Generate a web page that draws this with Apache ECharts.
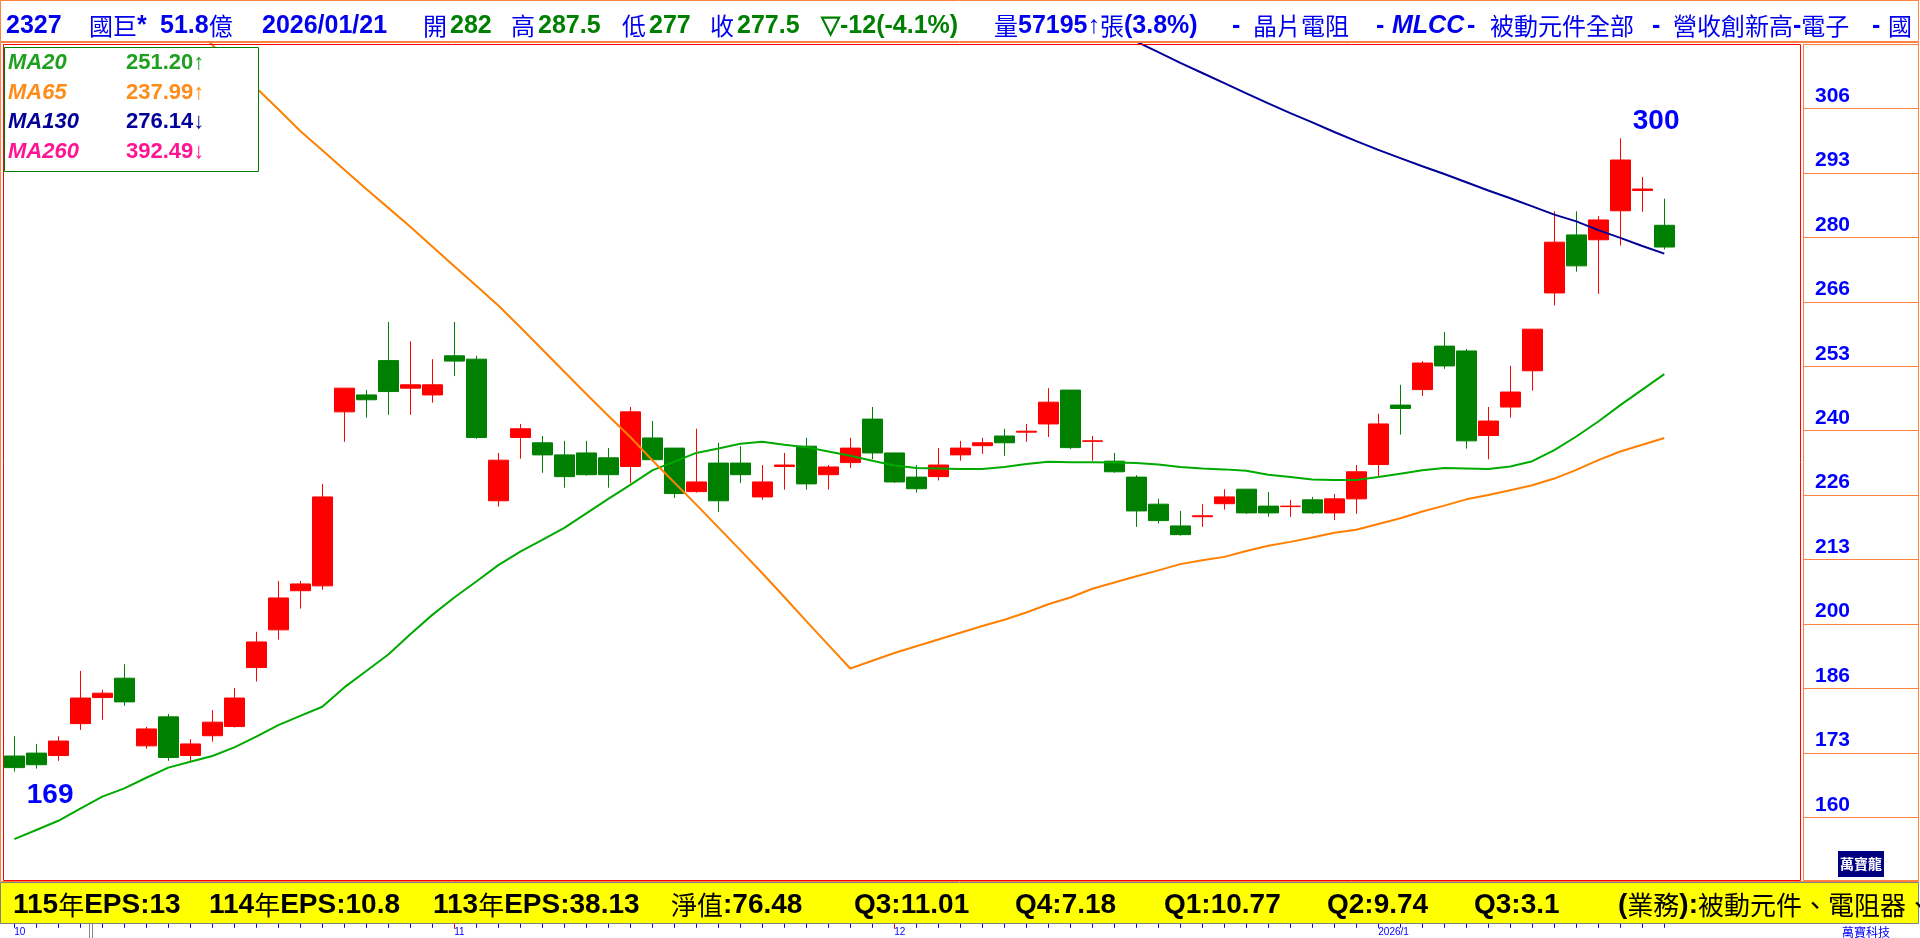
<!DOCTYPE html>
<html><head><meta charset="utf-8">
<script src="https://cdn.jsdelivr.net/npm/echarts@6/dist/echarts.min.js"></script>
<style>html,body{margin:0;padding:0;background:#fff;}#c{width:1920px;height:938px;}</style>
</head><body><div id="c"></div>
<script>
const dates = [
'2025/10/01','2025/10/02','2025/10/03','2025/10/07','2025/10/08','2025/10/09','2025/10/13','2025/10/14','2025/10/15','2025/10/16',
'2025/10/17','2025/10/20','2025/10/21','2025/10/22','2025/10/23','2025/10/27','2025/10/28','2025/10/29','2025/10/30','2025/10/31',
'2025/11/03','2025/11/04','2025/11/05','2025/11/06','2025/11/07','2025/11/10','2025/11/11','2025/11/12','2025/11/13','2025/11/14',
'2025/11/17','2025/11/18','2025/11/19','2025/11/20','2025/11/21','2025/11/24','2025/11/25','2025/11/26','2025/11/27','2025/11/28',
'2025/12/01','2025/12/02','2025/12/03','2025/12/04','2025/12/05','2025/12/08','2025/12/09','2025/12/10','2025/12/11','2025/12/12',
'2025/12/15','2025/12/16','2025/12/17','2025/12/18','2025/12/19','2025/12/22','2025/12/23','2025/12/24','2025/12/26','2025/12/29',
'2025/12/30','2025/12/31','2026/01/02','2026/01/05','2026/01/06','2026/01/07','2026/01/08','2026/01/09','2026/01/12','2026/01/13',
'2026/01/14','2026/01/15','2026/01/16','2026/01/19','2026/01/20','2026/01/21'];
const openP = [172.2,172.8,172.3,178.9,184.3,188.3,174.3,180.3,172.3,176.4,
178.3,190.5,198.3,206.4,207.4,243.4,246.9,254.0,248.3,246.9,
255.0,254.3,225.0,238.1,237.0,234.5,234.9,233.9,232.1,238.0,
235.9,226.9,232.8,232.8,225.8,232.1,236.3,230.4,232.9,241.9,
234.9,229.9,230.0,234.5,236.4,238.4,239.2,240.9,247.9,237.3,
233.2,229.9,224.3,219.8,221.7,224.4,227.4,223.9,223.8,225.2,
222.5,225.4,232.5,244.8,248.0,257.0,256.0,238.5,244.4,251.9,
268.0,280.0,279.0,285.0,289.2,282.0];
const closeP = [169.8,170.4,175.3,184.2,185.2,183.4,177.8,171.9,174.7,179.2,
184.2,195.8,204.9,207.8,225.8,248.3,245.9,247.6,249.0,249.0,
253.9,238.1,233.4,239.9,234.5,230.0,230.4,230.4,243.4,233.5,
226.5,228.9,225.0,230.4,228.9,232.4,228.5,232.0,235.9,234.9,
228.9,227.5,232.4,235.9,237.0,237.0,239.4,245.4,236.0,237.4,
231.0,222.9,220.9,218.0,221.9,225.8,222.5,222.5,223.9,222.5,
225.4,231.0,240.9,244.1,253.5,252.9,237.4,241.5,247.5,260.5,
278.5,273.6,283.1,295.5,289.5,277.5];
const lowP = [169.0,169.6,171.2,177.6,179.7,182.6,173.7,171.2,171.0,175.2,
178.1,187.6,196.3,202.7,206.6,237.2,242.2,242.8,242.8,245.3,
250.8,237.8,223.8,233.7,230.8,227.7,230.2,227.7,228.7,233.3,
225.6,226.7,222.7,228.7,225.2,227.3,227.3,227.3,231.8,233.6,
228.7,226.7,229.2,233.3,234.7,234.3,237.2,238.2,235.7,233.3,
230.8,219.6,220.3,217.8,219.6,223.2,222.3,221.7,221.7,222.3,
221.0,222.3,229.7,238.7,246.7,252.3,235.8,233.6,242.2,247.8,
265.4,272.4,267.8,277.8,284.8,277.0];
const highP = [176.3,174.7,176.3,189.8,185.9,191.2,178.2,180.9,175.7,181.7,
186.3,197.9,208.4,208.4,228.5,248.3,247.9,262.0,258.0,254.3,
262.0,255.0,234.9,240.9,238.4,237.4,237.4,235.9,244.4,241.5,
235.9,239.9,237.0,236.3,232.4,234.9,238.0,232.4,238.0,244.4,
234.9,232.4,235.9,237.4,238.0,239.9,240.9,248.3,247.9,238.4,
234.9,230.3,225.4,222.9,224.3,227.4,227.4,226.8,225.2,225.8,
226.4,232.4,243.0,249.0,253.9,259.9,256.4,244.4,252.9,260.5,
284.9,284.9,283.9,300.0,292.0,287.5];
const ma20 = [155.0,156.9,158.8,161.3,163.8,165.5,167.7,169.8,171.0,172.2,
174.0,176.2,178.6,180.5,182.4,186.4,189.8,193.2,197.4,201.4,
205.0,208.3,211.7,214.5,216.9,219.4,222.4,225.4,228.3,231.3,
233.1,234.9,235.8,236.8,237.2,236.6,236.1,235.2,234.3,233.3,
232.3,231.8,231.7,231.6,231.6,232.0,232.6,233.1,233.0,233.0,
232.9,232.8,232.5,232.0,231.7,231.5,231.2,230.4,229.9,229.4,
229.3,229.3,229.9,230.6,231.3,231.8,231.7,231.6,232.1,233.2,
235.5,238.3,241.4,244.8,248.0,251.2];
const ma65 = [359.0,354.5,350.0,345.5,341.0,336.5,332.0,327.8,323.6,319.3,
314.9,310.4,306.0,301.5,297.5,293.5,289.5,285.6,281.7,277.6,
273.5,269.5,265.4,260.9,256.3,251.7,247.1,242.6,238.2,233.4,
228.8,224.2,219.5,214.8,210.0,205.1,200.1,195.2,190.3,191.9,
193.5,194.9,196.3,197.7,199.1,200.4,201.9,203.6,205.0,206.8,
208.1,209.4,210.6,211.9,212.7,213.4,214.6,215.7,216.5,217.4,
218.4,219.0,220.2,221.4,222.8,224.0,225.3,226.2,227.2,228.2,
229.6,231.4,233.4,235.2,236.6,237.99];
const ma130 = [null,null,null,null,null,null,null,null,null,null,
null,null,null,null,null,null,null,null,null,null,
null,null,null,null,null,null,null,null,null,null,
null,null,null,null,null,null,null,null,null,null,
null,null,null,null,null,null,null,null,null,324.4,
322.2,320.0,317.8,315.6,313.5,311.4,309.3,307.2,305.2,303.3,
301.3,299.4,297.6,295.9,294.2,292.6,290.9,289.2,287.6,285.9,
284.2,282.8,281.0,279.4,277.7,276.14];
const yTickLabels = ['160','173','186','200','213','226','240','253','266','280','293','306'];
const monthStartIdx = [0,20,40,62];
const monthLabels = ['10','11','12','2026/1'];
const redTickIdx = [20,40];
const orangeMarkIdx = [11];
const greenMarkIdx = [56];
const maNames = ['MA20','MA65','MA130','MA260'];
const maValues = ['251.20\u2191','237.99\u2191','276.14\u2193','392.49\u2193'];
const headerSegs = [
 [6,'2327','b'],[89,'國巨*','b'],[160,'51.8億','b'],[262,'2026/01/21','b'],
 [423,'開','b'],[450,'282','g'],[511,'高','b'],[538,'287.5','g'],
 [622,'低','b'],[649,'277','g'],[710,'收','b'],[737,'277.5','g'],
 [821,'\u25BD-12(-4.1%)','g'],[994,'量','b'],[1018,'57195\u2191張(3.8%)','b'],
 [1232,'-','b'],[1253,'晶片電阻','b'],[1376,'-','b'],[1392,'MLCC','bi'],[1467,'-','b'],
 [1490,'被動元件全部','b'],[1652,'-','b'],[1673,'營收創新高-電子','b'],[1872,'-','b'],[1888,'國','b']];
const footerSegs = [
 [13,'115年EPS:13'],[209,'114年EPS:10.8'],[433,'113年EPS:38.13'],[671,'淨值:76.48'],
 [854,'Q3:11.01'],[1015,'Q4:7.18'],[1164,'Q1:10.77'],[1327,'Q2:9.74'],[1474,'Q3:3.1'],
 [1618,'(業務):被動元件、電阻器、電容器']];

const LAT = "'Liberation Sans', Arial, sans-serif";
const CJK = "'Noto Sans CJK TC','Noto Sans CJK SC',sans-serif";
const BLUE = '#0000ee', GREEN = '#008000';
const C20 = '#00aa00', C65 = '#ff8000', C130 = '#000099', C260 = '#ff1493';
const legendTextColors = ['#20a020', '#ff8c1a', '#000099', '#ff1493'];

const cjkRe = /([\u2E80-\u9FFF\u3000-\u303F\uFF00-\uFFEF]+)/;
function runs(s){
  return s.split(cjkRe).filter(x=>x).map(x=>cjkRe.test(x)?'{c|'+x+'}':'{l|'+x+'}').join('');
}
function richEl(x, y, str, color, latSize, cjkSize, italic, z){
  return {type:'text', x:x, y:y, z:z||100, silent:true, style:{
    text: runs(str), verticalAlign:'middle', align:'left',
    rich:{
      l:{fill:color, fontSize:latSize, fontFamily:LAT, fontWeight:'bold', fontStyle: italic?'italic':'normal'},
      c:{fill:color, fontSize:cjkSize, fontFamily:CJK, fontWeight:'normal'}
    }}};
}

const graphics = [];
graphics.push({type:'rect', z:1, shape:{x:0.5,y:0.5,width:1918,height:41}, style:{fill:'#fff', stroke:'#ff8040', lineWidth:1}});
graphics.push({type:'rect', z:60, silent:true, shape:{x:0.5,y:42.5,width:1918,height:839}, style:{fill:'none', stroke:'#ff8040', lineWidth:1}});
graphics.push({type:'rect', z:60, silent:true, shape:{x:3.5,y:44.5,width:1797,height:836}, style:{fill:'none', stroke:'#ff0000', lineWidth:1}});
graphics.push({type:'rect', z:60, silent:true, shape:{x:1803.5,y:44.5,width:115,height:836}, style:{fill:'none', stroke:'#ff8040', lineWidth:1}});
graphics.push({type:'rect', z:20, shape:{x:0.5,y:882.5,width:1918,height:41}, style:{fill:'#ffff00', stroke:'#808080', lineWidth:1}});
footerSegs.forEach(s=>graphics.push(richEl(s[0], 905.5, s[1], '#000', 28, 26, false, 30)));
headerSegs.forEach(s=>graphics.push(richEl(s[0], 26, s[1], s[2][0]==='g'?GREEN:BLUE, 25, 24, s[2]==='bi', 30)));
graphics.push({type:'rect', z:100, shape:{x:4.5,y:47.5,width:254,height:124}, style:{fill:'#fff', stroke:'#008000', lineWidth:1}});
const rowY = [63, 92.5, 122, 151.5];
maNames.forEach((n,i)=>{
  graphics.push({type:'text', z:101, x:8, y:rowY[i], style:{text:n, fill:legendTextColors[i], fontSize:22, fontFamily:LAT, fontWeight:'bold', fontStyle:'italic', verticalAlign:'middle'}});
  graphics.push({type:'text', z:101, x:126, y:rowY[i], style:{text:maValues[i], fill:legendTextColors[i], fontSize:22, fontFamily:LAT, fontWeight:'bold', verticalAlign:'middle'}});
});
graphics.push({type:'rect', z:70, shape:{x:1838,y:851,width:46,height:26}, style:{fill:'#000080'}});
graphics.push({type:'text', z:71, x:1861, y:864, style:{text:'萬寶龍', fill:'#fff', fontSize:14, fontWeight:'bold', fontFamily:CJK, align:'center', verticalAlign:'middle'}});
graphics.push({type:'text', z:71, x:1842, y:932, style:{text:'萬寶科技', fill:'#0000ff', fontSize:12, fontFamily:CJK, verticalAlign:'middle'}});
graphics.push({type:'line', z:71, shape:{x1:89.5,y1:924,x2:89.5,y2:938}, style:{stroke:'#888', lineWidth:1}});
graphics.push({type:'line', z:71, shape:{x1:92.5,y1:924,x2:92.5,y2:938}, style:{stroke:'#888', lineWidth:1}});

const chart = echarts.init(document.getElementById('c'), null, {renderer:'canvas'});
const candleData = dates.map((d,i)=>[openP[i], closeP[i], lowP[i], highP[i]]);
const markVal = 147.4;
chart.setOption({
  animation:false,
  backgroundColor:'#ffffff',
  grid:[
    {left:3.3, top:44, width:1672, height:837.75, outerBoundsMode:'none', containLabel:false},
    {left:1803, top:44, width:115, height:837.75, outerBoundsMode:'none', containLabel:false}
  ],
  xAxis:[
    {type:'category', gridIndex:0, data:dates, boundaryGap:true, position:'bottom', offset:42,
     axisLine:{show:false},
     axisTick:{show:true, alignWithLabel:true, interval:0, length:4, lineStyle:{color:'#0000ff', width:1}},
     axisLabel:{show:true, interval:(i)=>monthStartIdx.indexOf(i)>=0, formatter:(v,i)=>monthLabels[monthStartIdx.indexOf(i)]||'',
       color:'#0000ff', fontSize:10, fontFamily:LAT, align:'left', margin:3},
     splitLine:{show:false}},
    {type:'category', gridIndex:0, data:dates, boundaryGap:true, position:'bottom', offset:42,
     axisLine:{show:false}, axisLabel:{show:false},
     axisTick:{show:true, alignWithLabel:true, interval:(i)=>redTickIdx.indexOf(i)>=0, length:5, lineStyle:{color:'#ff0000', width:1}},
     splitLine:{show:false}},
    {type:'value', gridIndex:1, show:false, min:0, max:1}
  ],
  yAxis:[
    {type:'value', gridIndex:0, min:146.19, max:319.5, show:false, splitLine:{show:false}},
    {type:'value', gridIndex:1, min:-1, max:12, interval:1, position:'left',
     axisLine:{show:false}, axisTick:{show:false},
     splitLine:{show:true, lineStyle:{color:'#ff8040', width:1}},
     axisLabel:{inside:true, margin:12, align:'left', verticalAlign:'bottom', padding:[0,0,2,0],
       formatter:(v)=> (v>=0 && v<yTickLabels.length) ? yTickLabels[v] : '',
       color:'#0000ff', fontSize:21, fontWeight:'bold', fontFamily:LAT}}
  ],
  graphic: graphics,
  series:[
    {type:'candlestick', xAxisIndex:0, yAxisIndex:0, data:candleData, barWidth:20, z:2,
     itemStyle:{color:'#ff0000', color0:'#008000', borderColor:'#ff0000', borderColor0:'#008000', borderWidth:1},
     markPoint:{
       symbol:'circle', symbolSize:1, itemStyle:{color:'rgba(0,0,0,0)'},
       label:{show:true, position:'right', distance:12, color:'#0000ff', fontSize:28, fontWeight:'bold', fontFamily:LAT,
         formatter:(p)=>String(Math.round(p.value))},
       data:[
         {type:'max', valueDim:'highest', label:{offset:[0,-17]}},
         {type:'min', valueDim:'lowest', label:{offset:[0,24]}}
       ]}
    },
    {type:'line', name:'MA20', data:ma20, xAxisIndex:0, yAxisIndex:0, symbol:'none', z:3, clip:true,
     lineStyle:{color:C20, width:2}},
    {type:'line', name:'MA65', data:ma65, xAxisIndex:0, yAxisIndex:0, symbol:'none', z:3, clip:true,
     lineStyle:{color:C65, width:2}},
    {type:'line', name:'MA130', data:ma130, xAxisIndex:0, yAxisIndex:0, symbol:'none', z:3, clip:true, connectNulls:false,
     lineStyle:{color:C130, width:2}},
    {type:'scatter', xAxisIndex:0, yAxisIndex:0, symbol:'emptyTriangle', symbolSize:[9,10], z:4,
     itemStyle:{color:'#fff', borderColor:C65, borderWidth:1},
     data: orangeMarkIdx.map(i=>[i, markVal])},
    {type:'scatter', xAxisIndex:0, yAxisIndex:0, symbol:'emptyTriangle', symbolSize:[9,10], z:4,
     itemStyle:{color:'#fff', borderColor:'#00a000', borderWidth:1},
     data: greenMarkIdx.map(i=>[i, markVal])}
  ]
});
</script></body></html>
